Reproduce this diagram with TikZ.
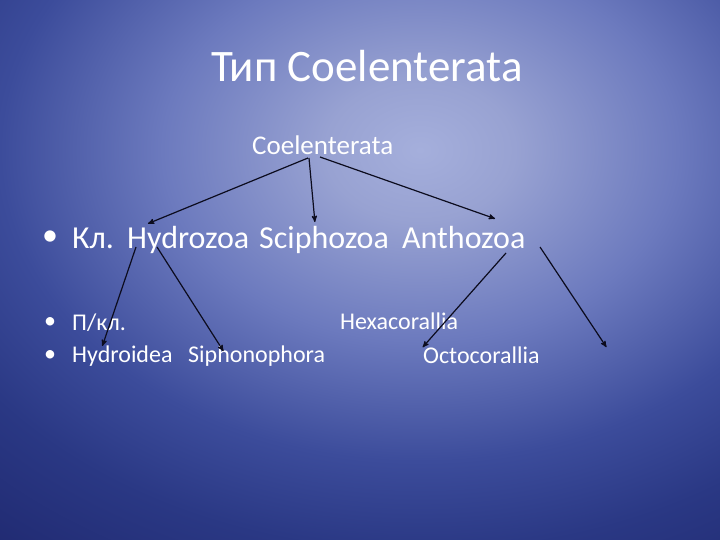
\documentclass[tikz,border=0pt]{standalone}
\usepackage{fontspec}
\setmainfont{Carlito}
\usetikzlibrary{arrows}

\definecolor{bgA}{RGB}{165,175,220}
\definecolor{bgB}{RGB}{152,162,210}
\definecolor{bgC}{RGB}{108,122,190}
\definecolor{bgD}{RGB}{60,76,155}
\definecolor{bgE}{RGB}{42,56,132}
\definecolor{bgF}{RGB}{24,30,98}
\definecolor{arrowink}{RGB}{12,12,30}
\pgfdeclareradialshading{slidebg}{\pgfpointorigin}{%
  color(0bp)=(bgA); color(70bp)=(bgB); color(190bp)=(bgC);
  color(310bp)=(bgD); color(400bp)=(bgE); color(600bp)=(bgF)}

\begin{document}
\begin{tikzpicture}[x=1pt,y=-1pt,->,>=stealth',shorten >=1pt,
  every node/.style={text=white,inner sep=0pt,anchor=base west},
  big/.style={font=\fontsize{45}{50}\selectfont},
  mid/.style={font=\fontsize{27}{30}\selectfont},
  cls/.style={font=\fontsize{32}{36}\selectfont},
  sub/.style={font=\fontsize{24}{28}\selectfont},
  link/.style={draw=arrowink,line width=1.2pt}]
  \begin{scope}
    \clip (0,0) rectangle (720,540);
    \node[anchor=center,xscale=1.35,transform shape] (glow) at (420,150) {\pgfuseshading{slidebg}};
  \end{scope}
  \useasboundingbox (0,0) rectangle (720,540);
  % headings
  \node[big] (title) at (211,82) {Тип Coelenterata};
  \node[mid] (phylum) at (252,155) {Coelenterata};
  % classes
  \node[cls,anchor=center] (dot1) at (50,238) {•};
  \node[cls] (kl) at (72,248) {Кл.};
  \node[cls] (hydro) at (127,248) {Hydrozoa};
  \node[cls] (scipho) at (259,248) {Sciphozoa};
  \node[cls] (antho) at (402,248) {Anthozoa};
  % subclasses
  \node[sub,anchor=center] (dot2) at (50,323) {•};
  \node[sub,anchor=center] (dot3) at (50,356) {•};
  \node[sub] (pkl) at (72,330) {П/кл.};
  \node[sub] (hexa) at (340,329) {Hexacorallia};
  \node[sub] (hydroid) at (72,362) {Hydroidea};
  \node[sub] (sipho) at (188,362) {Siphonophora};
  \node[sub] (octo) at (423,363) {Octocorallia};
  \coordinate (blank) at ([shift={(184,-15)}]octo.base west);
  \path[every edge/.style={link}]
     ([shift={(56,3)}]phylum.base west) edge ([shift={(20,-24)}]hydro.base west)
     ([shift={(57,3)}]phylum.base west) edge ([shift={(56,-25)}]scipho.base west)
     ([shift={(68,2)}]phylum.base west) edge ([shift={(94,-29)}]antho.base west)
     ([shift={(9,-1)}]hydro.base west) edge ([shift={(30,-15)}]hydroid.base west)
     ([shift={(30,-1)}]hydro.base west) edge ([shift={(36,-10)}]sipho.base west)
     ([shift={(104,5)}]antho.base west) edge ([shift={(-1,-15)}]octo.base west)
     ([shift={(138,-1)}]antho.base west) edge (blank);
\end{tikzpicture}
\end{document}
